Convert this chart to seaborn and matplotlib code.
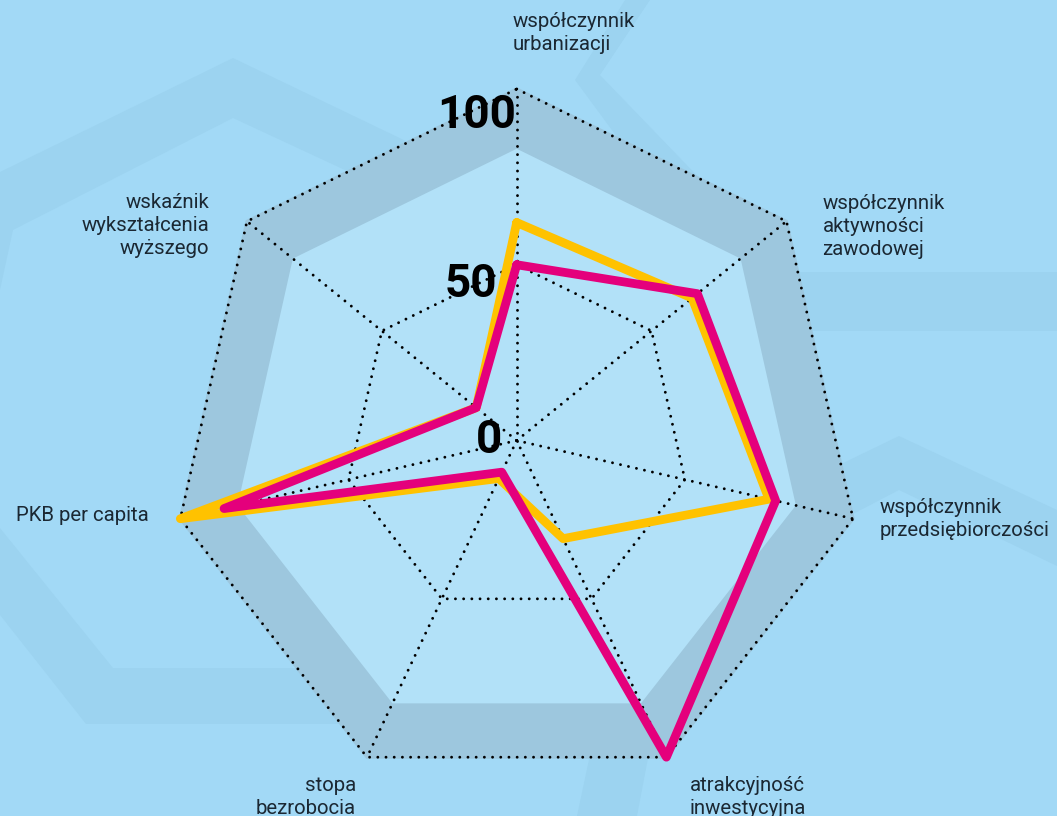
import numpy as np
import pandas as pd
import matplotlib
matplotlib.use("Agg")
import matplotlib.pyplot as plt
from matplotlib.patches import Polygon
import seaborn as sns

# ---------------- data ----------------
categories = [
    "współczynnik\nurbanizacji",
    "współczynnik\naktywności\nzawodowej",
    "współczynnik\nprzedsiębiorczości",
    "atrakcyjność\ninwestycyjna",
    "stopa\nbezrobocia",
    "PKB per capita",
    "wskaźnik\nwykształcenia\nwyższego",
]
series_names = ["seria żółta", "seria różowa"]
yellow_values = [62, 65, 75, 31, 12, 100, 15]
pink_values = [50, 67, 77, 100, 10, 87, 15]
tick_values = [0, 50, 100]
tick_labels = ["0", "50", "100"]

# ---------------- style ----------------
BG = "#a2d9f6"
INNER = "#b2e1f8"
RING = "#9dc7de"
FAINT = "#9cd3f0"
YELLOW = "#ffc200"
PINK = "#e4007c"
TEXT = "#1b2833"

sns.set_style("white")
plt.rcParams["font.family"] = ["Roboto", "DejaVu Sans"]

W, H = 1057, 816
fig = plt.figure(figsize=(W / 100, H / 100), dpi=100, facecolor=BG)

# background decorative shapes (pixel space)
bg = fig.add_axes([0, 0, 1, 1])
bg.set_xlim(0, W)
bg.set_ylim(H, 0)
bg.axis("off")
bg.set_facecolor(BG)
shapes = [
    # upper-left hexagon band
    [(0, 172), (233, 58), (560, 215), (560, 270), (233, 118), (13, 230), (0, 290)],
    # upper-right band
    [(575, 80), (625, 0), (650, 0), (600, 75), (790, 272), (1057, 272), (1057, 331), (760, 331)],
    # lower-left band
    [(0, 528), (113, 668), (420, 668), (420, 724), (86, 724), (0, 615)],
    # lower-right band
    [(577, 816), (630, 566), (899, 436), (1057, 510), (1057, 566), (899, 490), (677, 606), (637, 816)],
]
for s in shapes:
    bg.add_patch(Polygon(s, closed=True, facecolor=FAINT, edgecolor="none", zorder=1))

# ---------------- radar axes ----------------
cx, cy = 516.7, 440.5
Rx100, Ry100 = 345.0, 351.5
RMAX = 110
Rx, Ry = Rx100 * RMAX / 100, Ry100 * RMAX / 100
ax = fig.add_axes([(cx - Rx) / W, (H - cy - Ry) / H, 2 * Rx / W, 2 * Ry / H],
                  projection="polar")
ax.set_aspect("auto")
ax.set_theta_zero_location("N")
ax.set_theta_direction(-1)
ax.set_ylim(0, RMAX)
ax.grid(False)
ax.set_xticks([])
ax.set_yticks([])
ax.spines["polar"].set_visible(False)
ax.patch.set_alpha(0)

n = len(categories)
theta = np.linspace(0, 2 * np.pi, n, endpoint=False)
theta_c = np.r_[theta, theta[0]]

# decorative ring + lighter inner area
ax.fill(theta_c, [100.5] * (n + 1), color=RING, lw=0, zorder=1)
ax.fill(theta_c, [83] * (n + 1), color=INNER, lw=0, zorder=1.1)

# dotted grid
dot = dict(color="black", lw=2.1, ls=(0, (0.01, 2.8)), dash_capstyle="round", zorder=2)
for r in tick_values[1:]:
    ax.plot(theta_c, [r] * (n + 1), **dot)
for t in theta:
    ax.plot([t, t], [0, tick_values[-1]], **dot)

# data lines via seaborn
rows = []
for name, vals in zip(series_names, [yellow_values, pink_values]):
    vc = list(vals) + [vals[0]]
    for t, v in zip(theta_c, vc):
        rows.append({"series": name, "theta": t, "value": v})
df = pd.DataFrame(rows)
sns.lineplot(data=df, x="theta", y="value", hue="series", hue_order=series_names,
             palette={series_names[0]: YELLOW, series_names[1]: PINK},
             sort=False, estimator=None, units="series", lw=6.3, legend=False, ax=ax,
             solid_joinstyle="round", solid_capstyle="round", zorder=3)
for l in ax.lines[-2:]:
    l.set_clip_on(False)
ax.set_xlabel("")
ax.set_ylabel("")
ax.set_xticks([])
ax.set_yticks([])
ax.set_ylim(0, RMAX)

# category labels
label_pos = [
    (-4, 56, "left"),
    (36, -5, "left"),
    (27, 0, "left"),
    (23, -40, "left"),
    (-11, -40, "right"),
    (-32, 3, "right"),
    (-38, -4, "right"),
]
for t, cat, (dx, dy, ha) in zip(theta, categories, label_pos):
    ax.annotate(cat, xy=(t, 100), xytext=(dx, dy), textcoords="offset pixels",
                ha=ha, va="center", fontsize=14.7, fontweight="normal",
                linespacing=1.26, color=TEXT, annotation_clip=False, zorder=5)

# radial value labels
num_pos = {0: (-15, -12.5), 50: (-20, -32), 100: (-1, -38.8)}
for v, lab in zip(tick_values, tick_labels):
    dx, dy = num_pos[v]
    ax.annotate(lab, xy=(0, v), xytext=(dx, dy), textcoords="offset pixels",
                ha="right", va="baseline", fontsize=33, fontweight="bold",
                color="black", annotation_clip=False, zorder=4)

fig.savefig("out.png", dpi=100, facecolor=BG)
